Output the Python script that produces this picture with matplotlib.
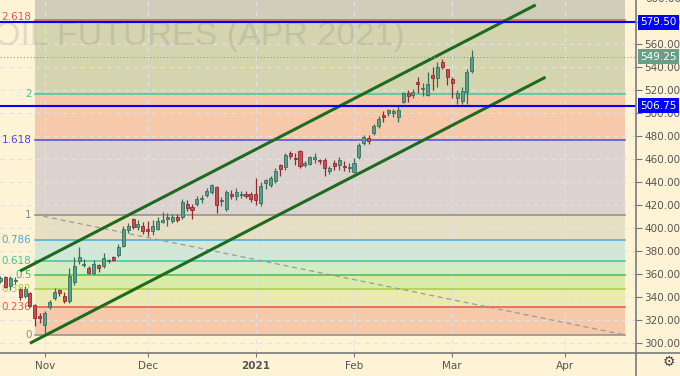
import numpy as np
import pandas as pd
import matplotlib
matplotlib.use('Agg')
import matplotlib.pyplot as plt
from matplotlib.lines import Line2D

# Datos: velas diarias (ICE), 20-oct-2020 a 05-mar-2021
opens = [354, 357, 349, 354, 347, 341, 343, 333, 323.5, 315.5,
         331.5, 339, 345.5, 341, 336, 353, 371, 368, 365, 360.5,
         368, 367, 371, 374.5, 376.5, 384, 398.5, 407.5, 401, 402,
         399, 397.5, 399, 405.5, 407.5, 406, 410, 410, 420.5, 418,
         421, 425, 429, 431, 435.5, 423.5, 416.5, 430, 427.5, 429,
         430, 429.5, 430, 421.5, 439, 437.5, 441, 455, 453, 465,
         461, 467, 455, 456, 460, 458.5, 459, 450, 457, 455,
         454, 452, 449, 461.5, 474, 478.5, 483, 488.5, 498.5, 500,
         500.5, 496.5, 509.5, 517.5, 516, 527.5, 521, 516, 533.5, 530.5,
         544.5, 538.5, 529.5, 513, 511, 519, 537]
highs = [358, 358, 358, 357, 348, 349, 344, 334, 326, 328,
         337, 348, 347, 344, 365.5, 375, 383.5, 373, 367, 372,
         369, 378, 373, 376, 386, 402, 404, 409, 407, 405,
         406, 407, 410, 414, 413, 412, 412, 425, 424, 421,
         428, 428.5, 435, 438, 437, 427, 433, 433, 435, 432,
         432, 431, 444, 440, 443, 445, 452, 456, 465, 467,
         465, 468, 458, 463, 465, 460, 461, 454, 459, 462,
         458, 457, 461, 474, 481, 481, 491, 498, 502, 504,
         504, 506, 519, 520, 521, 532, 526, 536, 540, 544.5,
         547, 539, 531.5, 520, 523, 539, 555]
lows = [352, 347.5, 346, 351, 337, 339, 331, 314.5, 317, 306.75,
        329, 337, 341, 334.5, 335, 350, 369, 366, 359.5, 359,
        362, 365, 369.5, 371.5, 375, 383, 396, 399, 398, 395,
        393, 393.5, 398, 404, 402, 404, 405, 408, 415, 408,
        419, 422, 427, 430, 413, 419, 415, 425, 424, 426,
        426, 423, 420, 419.5, 434, 436, 439, 445, 451, 460,
        455, 452, 453, 455, 457, 456, 445, 447, 451, 451,
        450, 449, 448, 460, 472, 473, 481, 487, 492.5, 498,
        497, 492, 509, 510, 513, 517.5, 515, 515, 520, 523,
        539, 524.5, 513, 508, 508.5, 508, 535]
closes = [356, 348.5, 356, 354.5, 340, 347, 332, 321.5, 321.5, 325.5,
          335.5, 344.5, 343, 336, 358, 367, 375, 368.5, 360.5, 368.5,
          365, 374, 372, 372.5, 383.5, 399.5, 401.5, 400.5, 403.5, 397.5,
          397, 401.5, 406, 407, 410, 410, 407, 423, 417.5, 416,
          425.5, 425.5, 432.5, 437.5, 420, 424.5, 431, 427.5, 431.5, 429.5,
          428, 425, 424.5, 436.5, 441.5, 443.5, 450, 451.5, 463.5, 463,
          460.5, 454, 456.5, 462, 461.5, 458, 452, 452, 454, 459.5,
          453, 452.5, 456.5, 472.5, 479, 476, 489, 495, 497, 503,
          502, 503, 517.5, 515, 518.5, 525.5, 521.5, 525.5, 530.5, 540.5,
          540.5, 531.5, 526, 517.5, 519.5, 536, 549.25]

# Fibonacci
fib_low = 306.75
fib_high = 411.75
fib_levels = [0, 0.236, 0.382, 0.5, 0.618, 0.786, 1, 1.618, 2, 2.618]
fib_labels = ['0', '0.236', '0.382', '0.5', '0.618', '0.786', '1', '1.618', '2', '2.618']
fib_line_colors = ['#8c8c8c', '#e0594f', '#a9cf3c', '#4cbb4c', '#3fc6a0',
                   '#4aa8d8', '#8c8c8c', '#4b4be0', '#3fc6a0', '#e0594f']
fib_zone_colors = ['#f5c9a9', '#ebeab1', '#daeba8', '#d4ecc3', '#d2e7d6',
                   '#e8dfc3', '#dcd3cf', '#f5c9a9', '#d4d5ae', '#d0cdbb']
fib_start, fib_end = 7.0, 127.2

# niveles horizontales y canal
level_prices = [579.50, 506.75]
last_price = 549.25
upper_chan = ([4, 109], [362.5, 594.5])
lower_chan = ([6, 111], [299.5, 531.5])

month_labels = ['Nov', 'Dec', '2021', 'Feb', 'Mar', 'Apr']
y_ticks = list(range(300, 600, 20))

# fechas de negociación -> índice de barra
days = pd.bdate_range('2020-10-20', '2021-04-30')
days = days[~days.isin(pd.to_datetime(['2020-12-25', '2021-01-01']))]
idx = np.arange(len(opens))
month_pos = [int(np.argmax((days.month == m) & (days.year == y)))
             for y, m in [(2020, 11), (2020, 12), (2021, 1), (2021, 2), (2021, 3), (2021, 4)]]

BG = '#fff3d6'
fig = plt.figure(figsize=(6.8, 3.76), dpi=100, facecolor=BG)
ax = fig.add_axes([0, 23 / 376, 636 / 680, 353 / 376])
ax.set_facecolor(BG)
ax.set_xlim(-0.1, 129.43)
ax.set_ylim(291.0, 598.8)
for s in ax.spines.values():
    s.set_visible(False)

# zonas de fibonacci
prices = [fib_low + l * (fib_high - fib_low) for l in fib_levels]
tops = prices[1:] + [700]
for p0, p1, c in zip(prices, tops, fib_zone_colors):
    ax.fill_between([fib_start, fib_end], p0, p1, color=c, lw=0, zorder=1)
for p, c, lab in zip(prices, fib_line_colors, fib_labels):
    ax.plot([fib_start, fib_end], [p, p], color=c, lw=1.1, zorder=2)
    off = 2.5 if lab == '2.618' else 0
    ax.text(6.3, p + off, lab, color=c, fontsize=7.5, ha='right', va='center', zorder=2)
ax.plot([fib_start, fib_end], [fib_high, fib_low], color='#9a9a9a', lw=0.9,
        ls=(0, (4, 3)), zorder=2)

# rejilla
ax.set_yticks(y_ticks)
ax.set_xticks(month_pos)
ax.grid(True, color='#dfe2ea', ls=(0, (4, 4)), lw=0.8)
ax.set_axisbelow('line')

# marca de agua
ax.text(-1.3, 559.6, 'OIL FUTURES (APR 2021)', fontsize=24.5, family='Liberation Sans',
        color='#808080', alpha=0.22, ha='left', va='baseline', zorder=1.8, clip_on=True)

# velas
up = np.array(closes) >= np.array(opens)
body_lo = np.minimum(opens, closes)
body_h = np.maximum(np.abs(np.array(closes) - np.array(opens)), 0.9)
col = np.where(up, '#5a9f8b', '#cf4a50')
edge = np.where(up, '#356e60', '#8d2c31')
ax.vlines(idx, lows, highs, colors=edge, lw=0.9, zorder=3)
ax.bar(idx, body_h, bottom=body_lo, width=0.62, color=col, edgecolor=edge,
       linewidth=0.6, zorder=4)

# canal
ax.plot(*upper_chan, color='#1c6b1f', lw=2.2, zorder=5, solid_capstyle='butt')
ax.plot(*lower_chan, color='#1c6b1f', lw=2.2, zorder=5, solid_capstyle='butt')

# niveles azules y último precio
for lp in level_prices:
    ax.axhline(lp, color='#0000ff', lw=1.5, zorder=6)
    ax.annotate('%.2f' % lp, xy=(1, lp), xycoords=ax.get_yaxis_transform(),
                xytext=(3, 0), textcoords='offset points', ha='left', va='center',
                fontsize=7.5, color='white', annotation_clip=False,
                bbox=dict(boxstyle='square,pad=0.25', fc='#0000ff', ec='none'))
ax.axhline(last_price, color='#7fa08a', lw=0.8, ls=(0, (1, 2)), zorder=6)
ax.annotate('%.2f' % last_price, xy=(1, last_price), xycoords=ax.get_yaxis_transform(),
            xytext=(3, 0), textcoords='offset points', ha='left', va='center',
            fontsize=7.5, color='white', annotation_clip=False,
            bbox=dict(boxstyle='square,pad=0.25', fc='#67a086', ec='none'))

# ejes
ax.yaxis.tick_right()
ax.yaxis.set_major_formatter(matplotlib.ticker.FormatStrFormatter('%.2f'))
ax.tick_params(axis='y', direction='out', length=4, width=0.8, color='#777777',
               labelsize=7.5, labelcolor='#555555', pad=2)
ax.set_xticklabels(month_labels)
ax.tick_params(axis='x', direction='out', length=3, width=0.8, color='#777777',
               labelsize=7.5, labelcolor='#555555', pad=3)
for t in ax.get_xticklabels():
    if t.get_text() == '2021':
        t.set_fontweight('bold')
ax.annotate('600.00', xy=(1, 600), xycoords=ax.get_yaxis_transform(), xytext=(7, 0),
            textcoords='offset points', ha='left', va='center', fontsize=7.5,
            color='#555555', annotation_clip=False)

fig.add_artist(Line2D([0, 1], [23 / 376, 23 / 376], color='#7a7a7a', lw=1.2))
fig.add_artist(Line2D([636 / 680, 636 / 680], [0, 1], color='#7a7a7a', lw=1.2))
fig.text(669 / 680, 1 - 362 / 376, '\u2699', fontsize=10, color='#444444',
         ha='center', va='center')

fig.savefig('out.png', dpi=100, facecolor=BG)
